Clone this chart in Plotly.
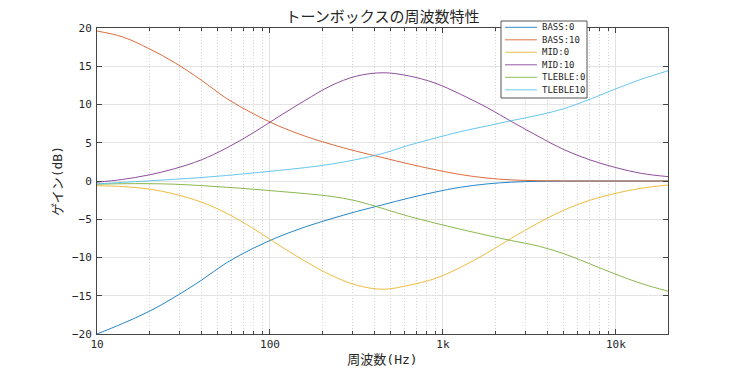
import plotly.graph_objects as go

freq = [10, 14, 20, 28, 40, 56, 80, 112, 160, 225, 315, 450, 630, 900,
        1260, 1800, 2500, 3550, 5000, 7100, 10000, 14000, 20000]
bass0 = [-20.0, -18.65, -17.05, -15.2, -13.0, -10.7, -8.8, -7.3, -6.0, -4.95, -4.0,
         -3.1, -2.25, -1.45, -0.82, -0.38, -0.15, -0.04, 0, 0, 0, 0, 0]
bass10 = [19.6, 18.85, 17.3, 15.5, 13.2, 10.8, 8.8, 7.2, 5.85, 4.8, 3.9,
          3.05, 2.25, 1.48, 0.85, 0.38, 0.14, 0.04, 0, 0, 0, 0, 0]
mid0 = [-0.62, -0.72, -1.05, -1.7, -2.75, -4.2, -6.2, -8.35, -10.5, -12.3, -13.6,
        -14.15, -13.65, -12.75, -11.3, -9.4, -7.45, -5.5, -3.8, -2.5, -1.6, -0.95, -0.52]
mid10 = [-0.15, 0.2, 0.8, 1.6, 2.75, 4.3, 6.3, 8.4, 10.55, 12.45, 13.7,
         14.15, 13.75, 12.8, 11.35, 9.6, 7.75, 5.85, 4.1, 2.75, 1.75, 1.0, 0.57]
treble0 = [-0.42, -0.36, -0.35, -0.42, -0.6, -0.82, -1.07, -1.35, -1.65, -2.0, -2.6,
           -3.6, -4.6, -5.5, -6.3, -7.1, -7.8, -8.5, -9.5, -10.85, -12.2, -13.4, -14.4]
treble10 = [-0.38, -0.18, 0.02, 0.22, 0.45, 0.72, 1.05, 1.38, 1.75, 2.2, 2.8,
            3.6, 4.65, 5.6, 6.45, 7.2, 7.9, 8.6, 9.45, 10.7, 12.05, 13.3, 14.4]

names = ["BASS:0", "BASS:10", "MID:0", "MID:10", "TLEBLE:0", "TLEBLE10"]
series = [bass0, bass10, mid0, mid10, treble0, treble10]
colors = ["#0072BD", "#D95319", "#EDB120", "#7E2F8E", "#77AC30", "#4DBEEE"]

xtick_vals = [10, 100, 1000, 10000]
xtick_text = ["10", "100", "1k", "10k"]
minor_vals = [m * 10 ** e for e in range(1, 5) for m in range(2, 10) if m * 10 ** e <= 20000]
ytick_vals = [-20, -15, -10, -5, 0, 5, 10, 15, 20]

FONT = "DejaVu Sans Mono, Noto Sans CJK JP, sans-serif"
TXT = "#262626"

# figure size compensates for the 8px default body margin of the page
W, H = 723, 360
L, R, T, B = 89, 63, 20, 34
PW, PH = W - L - R, H - T - B


def px(x):
    return (x - L) / PW


def py(y):
    return (H - B - y) / PH


fig = go.Figure()
for n, s, c in zip(names, series, colors):
    fig.add_trace(go.Scatter(x=freq, y=s, name=n, mode="lines", showlegend=False,
                             opacity=0.85,
                             line=dict(color=c, width=1, shape="spline", smoothing=1.0)))

# compact legend box (MATLAB style)
shapes = [dict(type="rect", xref="paper", yref="paper", layer="above",
               x0=px(493), x1=px(579), y0=py(90), y1=py(13),
               line=dict(color="#555", width=1), fillcolor="white")]
annotations = []
for i, (n, c) in enumerate(zip(names, colors)):
    yy = 19.3 + 12.5 * i
    shapes.append(dict(type="line", xref="paper", yref="paper", layer="above",
                       x0=px(497), x1=px(529), y0=py(yy), y1=py(yy), opacity=0.8,
                       line=dict(color=c, width=1)))
    annotations.append(dict(text=n, xref="paper", yref="paper", x=px(532), y=py(yy),
                            xanchor="left", yanchor="middle", showarrow=False,
                            font=dict(size=9, color=TXT, family=FONT)))

fig.update_layout(
    width=W, height=H,
    margin=dict(l=L, r=R, t=T, b=B, autoexpand=False),
    paper_bgcolor="white", plot_bgcolor="white",
    font=dict(family=FONT, size=11, color=TXT),
    title=dict(text="トーンボックスの周波数特性", xref="paper", x=0.5, xanchor="center",
               yref="container", y=1 - 9 / H, yanchor="middle",
               font=dict(size=15, color=TXT)),
    showlegend=False,
    shapes=shapes, annotations=annotations,
)
fig.update_xaxes(
    type="log", range=[1, 4.30103], automargin=False,
    tickmode="array", tickvals=xtick_vals, ticktext=xtick_text,
    ticks="inside", ticklen=5, tickcolor="#444",
    showline=True, linecolor="#444", linewidth=1, mirror="ticks",
    showgrid=True, gridcolor="#e3e3e3", gridwidth=1,
    minor=dict(tickmode="array", tickvals=minor_vals, ticks="inside", ticklen=3,
               tickcolor="#444", showgrid=True, gridcolor="#d4d4d4",
               griddash="1px,2px"),
    title=dict(text="周波数(Hz)", font=dict(size=13), standoff=4),
    zeroline=False,
)
fig.update_yaxes(
    range=[-20, 20], tickmode="array", tickvals=ytick_vals, automargin=False,
    ticks="inside", ticklen=5, tickcolor="#444", ticklabelstandoff=2,
    showline=True, linecolor="#444", linewidth=1, mirror="ticks",
    showgrid=True, gridcolor="#e3e3e3", gridwidth=1,
    title=dict(text="ゲイン(dB)", font=dict(size=13), standoff=6),
    zeroline=False,
)

fig.write_html("out.html")
